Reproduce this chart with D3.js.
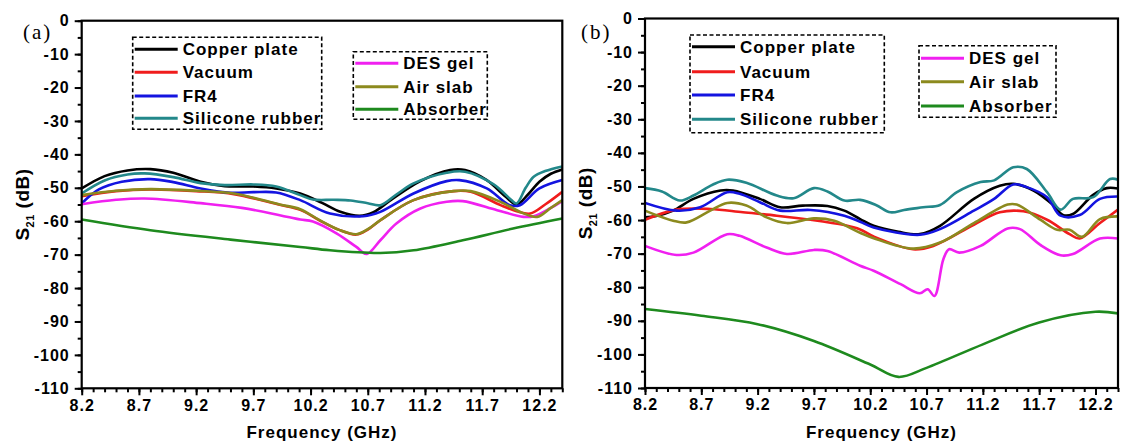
<!DOCTYPE html>
<html>
<head>
<meta charset="utf-8">
<script src="https://cdn.jsdelivr.net/npm/d3@7"></script>
<style>
	body { margin: 0; background: #fff; }
	svg text { font-family: "Liberation Sans", Arial, sans-serif; font-weight: bold; fill: #000; }
</style>
</head>
<body>
<div id="chart"></div>
<script>
// ---- data ----
const freqTicks = [8.2, 8.7, 9.2, 9.7, 10.2, 10.7, 11.2, 11.7, 12.2];
const s21Ticks = [0, -10, -20, -30, -40, -50, -60, -70, -80, -90, -100, -110];
const seriesNames = ["Copper plate", "Vacuum", "FR4", "Silicone rubber", "DES gel", "Air slab", "Absorber"];

// panel (a)  [GHz, dB]
const copperA = [[8.2,-50.2],[8.4,-46.5],[8.6,-44.8],[8.8,-44.4],[9.0,-45.5],[9.24,-48.2],[9.45,-49.5],[9.7,-49.6],[9.9,-50.2],[10.11,-51.7],[10.3,-54.5],[10.46,-57.2],[10.63,-58.4],[10.75,-57.3],[10.9,-53.7],[11.16,-48],[11.42,-44.7],[11.55,-44.7],[11.74,-47.7],[11.9,-52.5],[12.0,-55],[12.1,-52],[12.2,-48.2],[12.3,-45.8],[12.4,-44.5]];
const vacuumA = [[8.2,-52.5],[8.5,-51],[8.8,-50.5],[9.2,-51],[9.53,-51.9],[9.93,-55.1],[10.11,-56.6],[10.28,-59.8],[10.45,-62.6],[10.6,-64],[10.7,-62.5],[10.81,-59.7],[11.1,-53.7],[11.45,-51],[11.6,-51.2],[11.86,-55.2],[12.0,-57],[12.12,-57.7],[12.25,-55],[12.4,-51.2]];
const fr4A = [[8.2,-54.7],[8.35,-50.5],[8.55,-48.2],[8.8,-47.4],[9.0,-48.3],[9.24,-50.2],[9.5,-51.5],[9.7,-51.3],[9.9,-51.4],[10.11,-53.7],[10.37,-57.7],[10.66,-58.5],[10.81,-57.2],[11.1,-51.7],[11.39,-48],[11.5,-47.7],[11.74,-50.2],[11.94,-55.2],[12.03,-55.2],[12.2,-50.2],[12.4,-47.7]];
const siliconeA = [[8.2,-51.7],[8.4,-47.8],[8.6,-46.0],[8.75,-45.7],[9.0,-46.8],[9.24,-48.6],[9.45,-49.2],[9.7,-49],[9.9,-49.6],[10.11,-52.2],[10.22,-53.5],[10.4,-53.6],[10.55,-53.8],[10.7,-54.6],[10.81,-55.2],[10.95,-52],[11.1,-48.7],[11.39,-45.5],[11.55,-45.2],[11.8,-49],[11.95,-53.5],[12.0,-54.7],[12.08,-50],[12.15,-46.7],[12.25,-45],[12.4,-43.6]];
const desA = [[8.2,-54.9],[8.5,-53.6],[8.75,-53.2],[9.24,-54.6],[9.6,-56],[9.93,-58.2],[10.11,-59.5],[10.22,-60.1],[10.43,-63.7],[10.6,-67.7],[10.69,-69.8],[10.81,-65.7],[10.95,-60.7],[11.16,-56.2],[11.39,-54.2],[11.53,-54],[11.83,-56.7],[12.06,-58.7],[12.15,-58.5],[12.3,-56],[12.4,-54]];
const airA = [[8.2,-52.2],[8.5,-50.9],[8.8,-50.4],[9.2,-50.9],[9.53,-51.7],[9.93,-55],[10.11,-56.4],[10.28,-59.7],[10.45,-62.6],[10.6,-63.9],[10.7,-62.4],[10.81,-59.7],[11.1,-53.7],[11.45,-51],[11.6,-51],[11.86,-54.2],[12.05,-57.5],[12.18,-58.7],[12.3,-56],[12.4,-53.7]];
const absorberA = [[8.2,-59.5],[8.8,-62.7],[9.5,-65.5],[10.11,-67.7],[10.37,-68.7],[10.81,-69.5],[11.1,-68.7],[11.53,-65.7],[11.97,-62.2],[12.4,-59.2]];

// panel (b)  [GHz, dB]
const copperB = [[8.2,-59.2],[8.3,-58.8],[8.45,-57.2],[8.63,-53.7],[8.87,-51.2],[8.98,-51.2],[9.22,-53.7],[9.4,-56.2],[9.6,-55.7],[9.82,-55.8],[9.97,-57.2],[10.11,-59.7],[10.23,-61.7],[10.45,-63.5],[10.64,-64.2],[10.82,-61.7],[11.12,-53.7],[11.35,-49.8],[11.47,-49.2],[11.65,-51.2],[11.83,-55.7],[11.91,-58.5],[12.0,-58.2],[12.18,-52.5],[12.3,-50.5],[12.4,-50.6]];
const vacuumB = [[8.2,-59.9],[8.48,-56.9],[8.78,-56.7],[9.07,-57.7],[9.37,-58.7],[9.67,-59.9],[9.97,-61.5],[10.11,-62.8],[10.23,-64.9],[10.58,-68.7],[10.76,-67.7],[11.12,-61.4],[11.35,-57.7],[11.56,-57.4],[11.77,-59.9],[11.97,-64.2],[12.06,-65.5],[12.24,-60.9],[12.4,-56.9]];
const fr4B = [[8.2,-54.9],[8.48,-57.2],[8.69,-56.2],[8.93,-51.7],[9.04,-52.2],[9.22,-54.7],[9.4,-57.2],[9.67,-57],[9.97,-58.7],[10.11,-60.5],[10.23,-62.2],[10.64,-64.4],[10.82,-62.7],[11.12,-57.2],[11.3,-53.7],[11.47,-49.4],[11.59,-50.2],[11.77,-53.2],[11.89,-58.7],[12.06,-58.5],[12.24,-53.7],[12.4,-53]];
const siliconeB = [[8.2,-50.5],[8.35,-51.5],[8.51,-54.2],[8.63,-52.7],[8.8,-49.5],[8.93,-48],[9.1,-48.9],[9.37,-52.7],[9.52,-53.5],[9.7,-50.5],[9.82,-51.5],[9.97,-54.2],[10.11,-54],[10.25,-55.5],[10.38,-57.7],[10.5,-57],[10.67,-56.2],[10.82,-55.5],[10.97,-51.7],[11.18,-48.7],[11.3,-48.2],[11.47,-44.3],[11.59,-44.8],[11.77,-51.7],[11.89,-56.9],[12.0,-53.7],[12.18,-53.2],[12.33,-47.8],[12.4,-48]];
const desB = [[8.2,-67.7],[8.48,-70.4],[8.63,-69.7],[8.93,-64.2],[9.04,-64.7],[9.28,-68.2],[9.46,-70.1],[9.7,-68.9],[9.82,-69.2],[10.11,-73.6],[10.23,-75.1],[10.47,-79.1],[10.64,-81.8],[10.71,-80.6],[10.77,-82.6],[10.85,-71.6],[10.9,-68.7],[10.99,-69.7],[11.18,-67.7],[11.42,-62.5],[11.53,-62.7],[11.71,-67.4],[11.89,-70.5],[12.0,-70.1],[12.24,-65.5],[12.4,-65.5]];
const airB = [[8.2,-57.2],[8.45,-60.2],[8.57,-60.7],[8.78,-57.2],[8.93,-54.9],[9.1,-55.7],[9.28,-59.2],[9.46,-60.9],[9.7,-59.5],[9.88,-60.2],[10.11,-63.8],[10.23,-65.4],[10.58,-68.5],[10.82,-66.7],[11.12,-60.9],[11.42,-55.4],[11.5,-55.4],[11.71,-59.9],[11.86,-62.9],[11.97,-62.9],[12.08,-65],[12.24,-59.7],[12.4,-58.9]];
const absorberB = [[8.2,-86.5],[8.7,-88.5],[9.2,-91],[9.7,-96],[10.2,-103],[10.45,-106.7],[10.7,-104],[11.2,-97],[11.7,-90.5],[12.2,-87.3],[12.4,-87.8]];

// ---- styles / layout ----
const COLORS = ["#000000", "#f01c1c", "#1414e0", "#23888a", "#f020f0", "#8c8a1e", "#1e8a1e"];
const W = 1121, H = 444;

const panels = [
	{ label: "(a)", labelX: 23, left: 81.7, right: 562.3, top: 20.7, bottom: 388.3, titleX: 29,
	  series: [copperA, vacuumA, fr4A, siliconeA, desA, airA, absorberA],
	  boxes: [ { x0: 132.7, x1: 321.7, y0: 37.3, y1: 129.3, rows: [49.3, 72.3, 96, 118.3], items: [0,1,2,3] },
	           { x0: 353.3, x1: 487.3, y0: 51.7, y1: 119.3, rows: [63.3, 86.7, 109.3], items: [4,5,6] } ] },
	{ label: "(b)", labelX: 581, left: 645, right: 1118, top: 18.5, bottom: 388, titleX: 592,
	  series: [copperB, vacuumB, fr4B, siliconeB, desB, airB, absorberB],
	  boxes: [ { x0: 690, x1: 884.3, y0: 35, y1: 132.7, rows: [46.7, 71.7, 95, 119.3], items: [0,1,2,3] },
	           { x0: 919, x1: 1056, y0: 45.7, y1: 117.3, rows: [58.3, 81.7, 106], items: [4,5,6] } ] }
];

const svg = d3.select("#chart").append("svg")
	.attr("width", W)
	.attr("height", H);

panels.forEach(function(p, pi){
	const x = d3.scaleLinear().domain([8.2, 12.4]).range([p.left, p.right]);
	const y = d3.scaleLinear().domain([-110, 0]).range([p.bottom, p.top]);
	const g = svg.append("g");

	// clip so curves stay inside the frame
	g.append("clipPath").attr("id", "clip" + pi)
		.append("rect")
		.attr("x", p.left).attr("y", p.top)
		.attr("width", p.right - p.left).attr("height", p.bottom - p.top);

	const line = d3.line()
		.x(function(d){ return x(d[0]); })
		.y(function(d){ return y(d[1]); })
		.curve(d3.curveCatmullRom.alpha(0.5));

	g.append("g").attr("clip-path", "url(#clip" + pi + ")")
		.selectAll("path")
		.data(p.series)
		.enter().append("path")
		.attr("d", line)
		.attr("fill", "none")
		.attr("stroke", function(d, i){ return COLORS[i]; })
		.attr("stroke-width", 2.6)
		.attr("stroke-linejoin", "round");

	// minor ticks
	const minorX = d3.range(0, 43).map(function(i){ return +(8.2 + i * 0.1).toFixed(1); });
	const minorY = d3.range(0, 23).map(function(i){ return -i * 5; });
	g.append("g")
		.attr("transform", "translate(0," + p.bottom + ")")
		.call(d3.axisBottom(x).tickValues(minorX).tickSize(4).tickSizeOuter(0).tickFormat(""))
		.call(function(a){ a.select(".domain").remove(); a.selectAll("line").attr("stroke-width", 2); });
	g.append("g")
		.attr("transform", "translate(" + p.left + ",0)")
		.call(d3.axisLeft(y).tickValues(minorY).tickSize(4).tickSizeOuter(0).tickFormat(""))
		.call(function(a){ a.select(".domain").remove(); a.selectAll("line").attr("stroke-width", 2); });

	// major ticks + labels
	g.append("g")
		.attr("transform", "translate(0," + p.bottom + ")")
		.call(d3.axisBottom(x).tickValues(freqTicks).tickSize(7).tickSizeOuter(0).tickPadding(4)
			.tickFormat(function(d){ return d.toFixed(1); }))
		.call(function(a){
			a.select(".domain").remove();
			a.selectAll("line").attr("stroke-width", 2);
			a.selectAll("text").style("font-size", "16px").style("letter-spacing", "1px");
		});
	g.append("g")
		.attr("transform", "translate(" + p.left + ",0)")
		.call(d3.axisLeft(y).tickValues(s21Ticks).tickSize(7).tickSizeOuter(0).tickPadding(5)
			.tickFormat(function(d){ return String(d); }))
		.call(function(a){
			a.select(".domain").remove();
			a.selectAll("line").attr("stroke-width", 2);
			a.selectAll("text").style("font-size", "16px").style("letter-spacing", "1px");
		});

	// frame
	g.append("rect")
		.attr("x", p.left).attr("y", p.top)
		.attr("width", p.right - p.left).attr("height", p.bottom - p.top)
		.attr("fill", "none").attr("stroke", "#000").attr("stroke-width", 2.2);

	// axis titles
	g.append("text")
		.attr("x", (p.left + p.right) / 2).attr("y", 438)
		.attr("text-anchor", "middle")
		.style("font-size", "17px").style("letter-spacing", "1px")
		.text("Frequency (GHz)");
	const yt = g.append("text")
		.attr("transform", "translate(" + p.titleX + "," + ((p.top + p.bottom) / 2) + ") rotate(-90)")
		.attr("text-anchor", "middle")
		.style("font-size", "19px").style("letter-spacing", "0.5px");
	yt.append("tspan").text("S");
	yt.append("tspan").attr("dy", 5).style("font-size", "11px").text("21");
	yt.append("tspan").attr("dy", -5).text(" (dB)");

	// panel label
	g.append("text")
		.attr("x", p.labelX).attr("y", 39)
		.style("font-family", "'Liberation Serif','Times New Roman',serif")
		.style("font-weight", "normal")
		.style("font-size", "21px").style("letter-spacing", "2px")
		.text(p.label);

	// legends
	p.boxes.forEach(function(b){
		const lg = g.append("g");
		lg.append("rect")
			.attr("x", b.x0).attr("y", b.y0)
			.attr("width", b.x1 - b.x0).attr("height", b.y1 - b.y0)
			.attr("fill", "#fff").attr("stroke", "#000")
			.attr("stroke-width", 1.6).attr("stroke-dasharray", "4,2.5");
		const row = lg.selectAll(".item")
			.data(b.items)
			.enter().append("g")
			.attr("class", "item")
			.attr("transform", function(d, i){ return "translate(0," + b.rows[i] + ")"; });
		row.append("line")
			.attr("x1", b.x0 + 2).attr("x2", b.x0 + 45)
			.attr("stroke", function(d){ return COLORS[d]; })
			.attr("stroke-width", 3);
		row.append("text")
			.attr("x", b.x0 + 50).attr("y", 6)
			.style("font-size", "17px").style("letter-spacing", "1px")
			.text(function(d){ return seriesNames[d]; });
	});
});
</script>
</body>
</html>
